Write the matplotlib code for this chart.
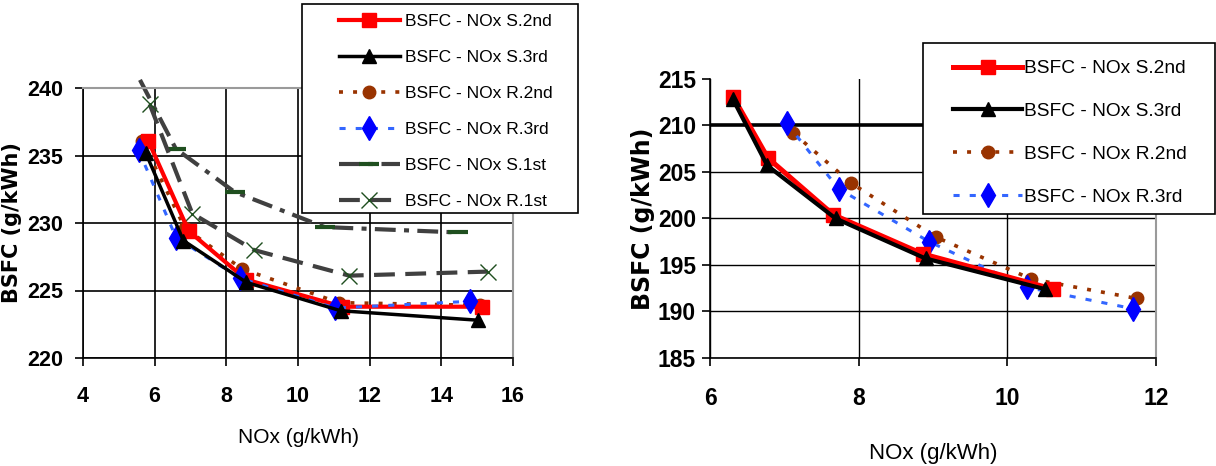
import matplotlib
matplotlib.use('Agg')
import matplotlib.pyplot as plt
from matplotlib.patches import Rectangle

plt.rcParams['font.family'] = ['Liberation Sans', 'DejaVu Sans']

# ---- left chart data (NOx g/kWh, BSFC g/kWh)
left_labels = ['BSFC - NOx S.2nd', 'BSFC - NOx S.3rd', 'BSFC - NOx R.2nd',
               'BSFC - NOx R.3rd', 'BSFC - NOx S.1st', 'BSFC - NOx R.1st']
l_s2_nox = [5.82, 6.95, 8.56, 11.24, 15.13]
l_s2_bsfc = [236.1, 229.4, 225.8, 223.8, 223.8]
l_s3_nox = [5.75, 6.8, 8.56, 11.19, 15.02]
l_s3_bsfc = [235.2, 228.7, 225.6, 223.5, 222.8]
l_r2_nox = [5.65, 6.85, 8.44, 11.14, 15.07]
l_r2_bsfc = [236.1, 229.6, 226.6, 224.1, 223.9]
l_r3_nox = [5.55, 6.6, 8.39, 11.04, 14.81]
l_r3_bsfc = [235.4, 228.9, 225.9, 223.7, 224.2]
l_s1_nox = [5.59, 6.59, 8.23, 10.74, 14.47]
l_s1_bsfc = [240.6, 235.5, 232.3, 229.7, 229.3]
l_r1_nox = [5.86, 7.05, 8.77, 11.43, 15.3]
l_r1_bsfc = [238.8, 230.7, 228.0, 226.1, 226.4]
left_xticks = [4, 6, 8, 10, 12, 14, 16]
left_yticks = [220, 225, 230, 235, 240]

# ---- right chart data
right_labels = ['BSFC - NOx S.2nd', 'BSFC - NOx S.3rd', 'BSFC - NOx R.2nd', 'BSFC - NOx R.3rd']
r_s2_nox = [6.31, 6.78, 7.66, 8.86, 10.62]
r_s2_bsfc = [213.1, 206.5, 200.4, 196.2, 192.4]
r_s3_nox = [6.31, 6.77, 7.69, 8.9, 10.51]
r_s3_bsfc = [212.8, 205.7, 200.0, 195.7, 192.4]
r_r2_nox = [7.12, 7.9, 9.04, 10.32, 11.74]
r_r2_bsfc = [209.2, 203.8, 198.0, 193.5, 191.4]
r_r3_nox = [7.03, 7.73, 8.95, 10.26, 11.69]
r_r3_bsfc = [210.25, 203.2, 197.5, 192.6, 190.3]
right_xticks = [6, 8, 10, 12]
right_yticks = [185, 190, 195, 200, 205, 210, 215]

RED = '#ff0000'
BROWN = '#993300'
BLUE_LINE = '#3366ff'
BLUE = '#0000ff'
GRAY = '#404040'
GREEN = '#1f4f1f'

W, H = 1216, 466
fig = plt.figure(figsize=(W / 100, H / 100), dpi=100)


def fx(px):
    return px / W


def fy(py):
    return 1 - py / H


def styles(scale=1.0):
    s2 = dict(color=RED, lw=3.0 * scale, marker='s', ms=10, mfc=RED, mec=RED)
    s3 = dict(color='black', lw=2.5 * scale, marker='^', ms=10, mfc='black', mec='black')
    r2 = dict(color=BROWN, lw=2.6, ls=(0, (1.1, 2.8)), marker='o', ms=9, mfc=BROWN, mec=BROWN)
    r3 = dict(color=BLUE_LINE, lw=2.2, ls=(0, (2, 3.3)), marker='d', ms=12, mfc=BLUE, mec=BLUE)
    return s2, s3, r2, r3


# ================= left chart
ax1 = fig.add_axes([fx(83), fy(358), fx(513) - fx(83), fy(88) - fy(358)])
s2, s3, r2, r3 = styles()
s1 = dict(color=GRAY, lw=3.0, ls=(0, (5, 2, 1.2, 2)), marker='_', ms=14, mew=3,
          mec=GREEN, markevery=[1, 2, 3, 4])
r1 = dict(color=GRAY, lw=3.0, ls=(0, (5, 2.5)), marker='x', ms=11, mew=1, mec=GREEN)

h_s1, = ax1.plot(l_s1_nox, l_s1_bsfc, clip_on=False, **s1)
h_r1, = ax1.plot(l_r1_nox, l_r1_bsfc, clip_on=False, **r1)
h_r2, = ax1.plot(l_r2_nox, l_r2_bsfc, clip_on=False, **r2)
h_s2, = ax1.plot(l_s2_nox, l_s2_bsfc, clip_on=False, **s2)
h_r3, = ax1.plot(l_r3_nox, l_r3_bsfc, clip_on=False, **r3)
h_s3, = ax1.plot(l_s3_nox, l_s3_bsfc, clip_on=False, **s3)
left_handles = [h_s2, h_s3, h_r2, h_r3, h_s1, h_r1]

ax1.set_xlim(4, 16)
ax1.set_ylim(220, 240)
ax1.set_xticks(left_xticks)
ax1.set_yticks(left_yticks)
ax1.grid(True, color='black', lw=1.2)
ax1.set_axisbelow(True)
for side in ['top', 'right']:
    ax1.spines[side].set_color('#9a9a9a')
    ax1.spines[side].set_linewidth(1.5)
for side in ['left', 'bottom']:
    ax1.spines[side].set_linewidth(1.2)
ax1.tick_params(direction='out', length=6, width=1.2, colors='black')
ax1.tick_params(axis='y', pad=8)
ax1.tick_params(axis='x', pad=14)
for lab in ax1.get_xticklabels() + ax1.get_yticklabels():
    lab.set_fontsize(15.5)
    lab.set_fontweight('bold')
ax1.set_xlabel('NOx (g/kWh)', fontsize=15, labelpad=15)
ax1.set_ylabel('BSFC (g/kWh)', fontsize=15, fontweight='bold',
               family='DejaVu Sans', labelpad=4)

fig.add_artist(Rectangle((fx(302), fy(213)), fx(578) - fx(302), fy(4) - fy(213),
                         transform=fig.transFigure, facecolor='white',
                         edgecolor='black', lw=1.2, zorder=4))
fig.legend(left_handles, left_labels, loc='upper left',
           bbox_to_anchor=(fx(339), fy(14)), frameon=False, fontsize=12.5,
           handlelength=3.5, handletextpad=0.3, labelspacing=1.2,
           borderpad=0, borderaxespad=0, numpoints=1)

# ================= right chart
ax2 = fig.add_axes([fx(710), fy(358), fx(1156) - fx(710), fy(79) - fy(358)])
s2, s3, r2, r3 = styles(1.2)
g_r2, = ax2.plot(r_r2_nox, r_r2_bsfc, **r2)
g_r3, = ax2.plot(r_r3_nox, r_r3_bsfc, **r3)
g_s2, = ax2.plot(r_s2_nox, r_s2_bsfc, **s2)
g_s3, = ax2.plot(r_s3_nox, r_s3_bsfc, **s3)
right_handles = [g_s2, g_s3, g_r2, g_r3]

ax2.set_xlim(6, 12)
ax2.set_ylim(185, 215)
ax2.set_xticks(right_xticks)
ax2.set_yticks(right_yticks)
ax2.grid(True, color='black', lw=1.0)
ax2.set_axisbelow(True)
for val, tick in zip(right_yticks, ax2.yaxis.get_major_ticks()):
    if val == 210:
        tick.gridline.set_linewidth(2.6)
    if val == 215:
        tick.gridline.set_visible(False)
ax2.spines['top'].set_visible(False)
ax2.spines['right'].set_color('#9a9a9a')
ax2.spines['right'].set_linewidth(1.5)
for side in ['left', 'bottom']:
    ax2.spines[side].set_linewidth(1.2)
ax2.tick_params(direction='out', length=6, width=1.2, colors='black')
ax2.tick_params(axis='y', pad=4)
ax2.tick_params(axis='x', pad=15)
for lab in ax2.get_xticklabels() + ax2.get_yticklabels():
    lab.set_fontsize(16.5)
    lab.set_fontweight('bold')
ax2.set_xlabel('NOx (g/kWh)', fontsize=16, labelpad=24)
ax2.set_ylabel('BSFC (g/kWh)', fontsize=17, fontweight='bold',
               family='DejaVu Sans', labelpad=2)

fig.add_artist(Rectangle((fx(923), fy(214)), fx(1215) - fx(923), fy(43) - fy(214),
                         transform=fig.transFigure, facecolor='white',
                         edgecolor='black', lw=1.2, zorder=4))
fig.legend(right_handles, right_labels, loc='upper left',
           bbox_to_anchor=(fx(953), fy(60)), frameon=False, fontsize=13.8,
           handlelength=3.6, handletextpad=0.1, labelspacing=1.32,
           borderpad=0, borderaxespad=0, numpoints=1)

fig.savefig('out.png', dpi=100)
